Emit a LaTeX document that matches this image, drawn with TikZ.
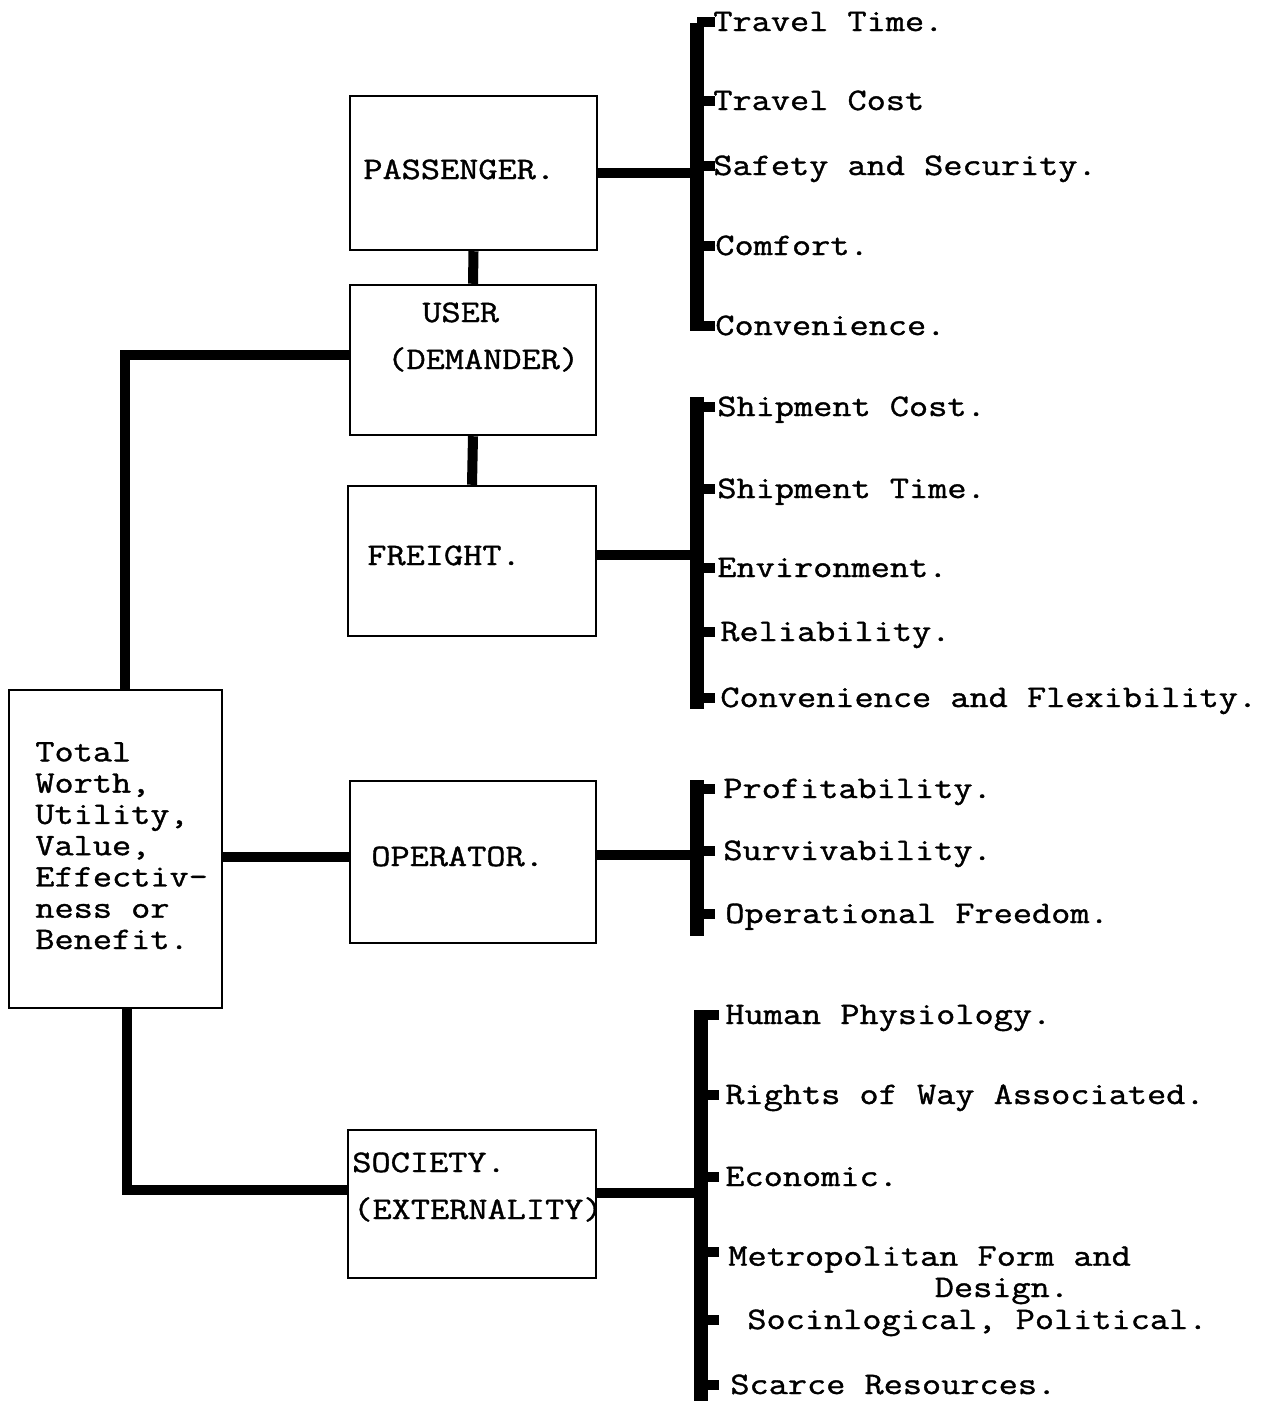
\documentclass[tikz,border=0pt]{standalone}
\usepackage{fontspec}
\setmonofont{Latin Modern Mono}[FakeStretch=1.19, FakeBold=1.2]
\usetikzlibrary{calc}

\begin{document}
\begin{tikzpicture}[
  x=0.2mm, y=-0.2mm,
  font=\ttfamily\fontsize{17.8}{17.8}\selectfont,
  blk/.style={draw, line width=1.4pt, inner sep=0pt},
  lbl/.style={anchor=base west, inner sep=0pt, align=left},
  item/.style={anchor=base west, inner sep=0pt, align=left},
  link/.style={line width=5.7pt},
  bar/.style={line width=8pt},
  tick/.style={line width=6pt}
]
\fill[white] (0,0) rectangle (1280,1403);
\useasboundingbox (0,0) rectangle (1280,1403);

% --- boxes ---
\node[blk, minimum width=42.6mm, minimum height=63.6mm] (total)   at (115.5,849) {};
\node[blk, minimum width=49.4mm, minimum height=30.8mm] (pass)    at (473.5,173) {};
\node[blk, minimum width=49.2mm, minimum height=30mm]   (user)    at (473,360)   {};
\node[blk, minimum width=49.6mm, minimum height=30mm]   (freight) at (472,561)   {};
\node[blk, minimum width=49.2mm, minimum height=32.4mm] (oper)    at (473,862)   {};
\node[blk, minimum width=49.6mm, minimum height=29.6mm] (soc)     at (472,1204)  {};

% multi-line labels sit on their last line
\node[lbl] (totaltxt) at (35,949)  {Total\\Worth,\\Utility,\\Value,\\Effectiv-\\ness or\\Benefit.};
\node[lbl] (passtxt)  at (363,179) {PASSENGER.};
\node[lbl] (usertxt)  at (422,322) {USER};
\node[lbl] (demtxt)   at (387,369) {(DEMANDER)};
\node[lbl] (frtxt)    at (367,565) {FREIGHT.};
\node[lbl] (opertxt)  at (371,866) {OPERATOR.};
\node[lbl] (soctxt)   at (352,1172) {SOCIETY.};
\node[lbl] (exttxt)   at (353,1219) {(EXTERNALITY)};

% --- links between boxes ---
\draw[link] (pass.south) -- (user.north);
\draw[link] (user.south) -- (freight.north);
\draw[link] ([xshift=1.9mm]total.north) |- ([yshift=1mm]user.west);
\draw[link] ([yshift=1mm]oper.west -| total.east) -- ([yshift=1mm]oper.west);
\draw[link] ([xshift=2.3mm]total.south) |- ([yshift=2.8mm]soc.west);

% --- bars ---
\coordinate (ptop) at (697,23);   \coordinate (pbot) at (697,331);
\coordinate (ftop) at (697,397);  \coordinate (fbot) at (697,709);
\coordinate (otop) at (697,780);  \coordinate (obot) at (697,936);
\coordinate (stop) at (701,1010); \coordinate (sbot) at (701,1401);
\draw[bar] (ptop) -- (pbot);
\draw[bar] (ftop) -- (fbot);
\draw[bar] (otop) -- (obot);
\draw[bar] (stop) -- (sbot);

\draw[link] (pass.east) -- (pass.east -| ptop);
\draw[link] ([yshift=1.2mm]freight.east) -- ([yshift=1.2mm]freight.east -| ftop);
\draw[link] ([yshift=1.4mm]oper.east) -- ([yshift=1.4mm]oper.east -| otop);
\draw[link] ([yshift=2.2mm]soc.east) -- ([yshift=2.2mm]soc.east -| stop);

% --- passenger items ---
\node[item] (p1) at (713,31)  {Travel Time.};
\node[item] (p2) at (713,110) {Travel Cost};
\node[item] (p3) at (713,175) {Safety and Security.};
\node[item] (p4) at (715,255) {Comfort.};
\node[item] (p5) at (715,335) {Convenience.};

% --- freight items ---
\node[item] (f1) at (717,416) {Shipment Cost.};
\node[item] (f2) at (717,498) {Shipment Time.};
\node[item] (f3) at (717,577) {Environment.};
\node[item] (f4) at (720,641) {Reliability.};
\node[item] (f5) at (720,707) {Convenience and Flexibility.};

% --- operator items ---
\node[item] (o1) at (723,798) {Profitability.};
\node[item] (o2) at (723,860) {Survivability.};
\node[item] (o3) at (725,923) {Operational Freedom.};

% --- society items ---
\node[item] (s1) at (725,1024) {Human Physiology.};
\node[item] (s2) at (725,1104) {Rights of Way Associated.};
\node[item] (s3) at (725,1186) {Economic.};
\node[item] (s4) at (728,1297) {Metropolitan Form and\\\hspace*{6.6em}Design.};
\node[item] (s5) at (747,1329) {Socinlogical, Political.};
\node[item] (s6) at (730,1394) {Scarce Resources.};

% short marks on the bars
\foreach \n/\b in {p1/ptop,p2/ptop,p3/ptop,p4/ptop,p5/ptop,
                   f1/ftop,f2/ftop,f3/ftop,f4/ftop,f5/ftop,
                   o1/otop,o2/otop,o3/otop,
                   s1/stop,s2/stop,s3/stop,s5/stop,s6/stop}
  \draw[tick] ([yshift=1.8mm]\n.base west -| \b) -- ++(3.6mm,0);
\draw[tick] ([yshift=9mm]s4.base west -| stop) -- ++(3.6mm,0);
\end{tikzpicture}
\end{document}
